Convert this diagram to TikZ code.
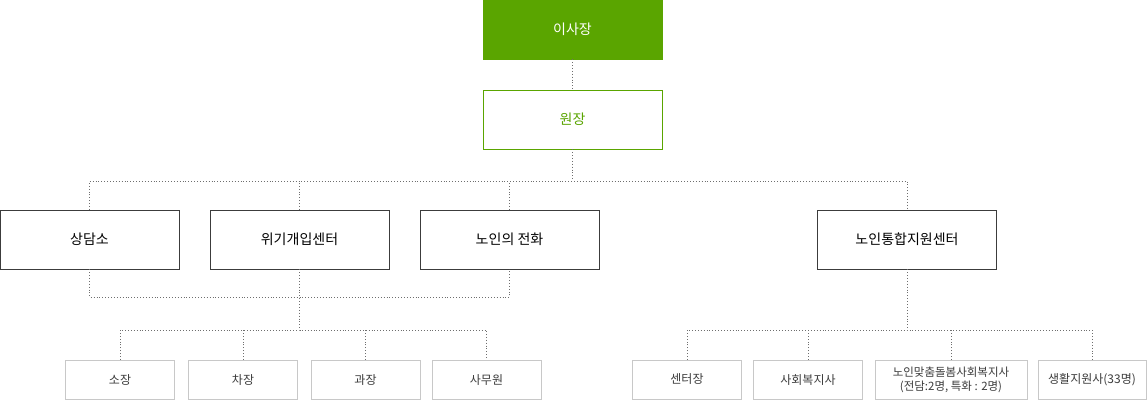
\documentclass[tikz,border=0pt]{standalone}
\usepackage{fontspec}
\setmainfont{Noto Sans CJK KR}
\usetikzlibrary{positioning,calc}
\definecolor{leafgreen}{RGB}{90,165,0}
\definecolor{boxgray}{RGB}{60,60,60}
\definecolor{lightgray}{RGB}{200,200,200}
\definecolor{dotgray}{RGB}{110,110,110}

\tikzset{
    headbox/.style={fill=leafgreen, draw=leafgreen, text=white, minimum width=179pt, minimum height=59pt, font=\fontsize{14}{16}\selectfont},
    directorbox/.style={draw=leafgreen, fill=white, text=leafgreen, minimum width=179pt, minimum height=59pt, font=\fontsize{14}{16}\selectfont},
    unitbox/.style={draw=boxgray, fill=white, minimum width=179pt, minimum height=59pt, font=\fontsize{14}{16}\selectfont},
    staffbox/.style={draw=lightgray, fill=white, minimum width=109pt, minimum height=39pt, font=\fontsize{12}{14}\selectfont, text=boxgray, align=center},
    link/.style={dotgray, dotted, line width=0.9pt}
}

\begin{document}
\begin{tikzpicture}[x=1pt,y=1pt]
    \useasboundingbox (0,0) rectangle (1147,-400);
    % Top levels
    \node[headbox] (chair) at (572.5,-29.5) {이사장};
    \node[directorbox] (director) at (572.5,-119.5) {원장};
    \draw[link] (chair) -- (director);

    % Units
    \node[unitbox] (counsel) at (89.5,-239.5) {상담소};
    \node[unitbox] (crisis) at (299.5,-239.5) {위기개입센터};
    \node[unitbox] (phone) at (509.5,-239.5) {노인의 전화};
    \node[unitbox] (integ) at (907,-239.5) {노인통합지원센터};

    \coordinate (top) at (572.5,-181);
    \draw[link] (director) -- (top);
    \draw[link] (counsel.north) |- (top) -| (integ.north);
    \foreach \u in {crisis, phone} {
        \draw[link] (\u.north) -- (\u.north |- top);
    }

    % Left staff
    \node[staffbox] (head) at (120,-379.5) {소장};
    \node[staffbox] (deputy) at (243,-379.5) {차장};
    \node[staffbox] (section) at (365.5,-379.5) {과장};
    \node[staffbox] (clerk) at (486.5,-379.5) {사무원};

    \coordinate (joinL) at (299.5,-297);
    \coordinate (busL) at (299.5,-330);
    \draw[link] (counsel.south) |- (joinL) -| (phone.south);
    \draw[link] (crisis.south) -- (busL);
    \draw[link] (head.north) |- (busL) -| (clerk.north);
    \foreach \s in {deputy, section} {
        \draw[link] (\s.north) -- (\s.north |- busL);
    }

    % Right staff
    \node[staffbox] (chief) at (687,-379.5) {센터장};
    \node[staffbox] (social) at (808,-379.5) {사회복지사};
    \node[staffbox, minimum width=152pt, font=\fontsize{11.5}{14}\selectfont] (custom) at (951,-379.5) {노인맞춤돌봄사회복지사\\(전담:2명, 특화 : 2명)};
    \node[staffbox, minimum width=108pt] (living) at (1092,-379.5) {생활지원사(33명)};

    \coordinate (busR) at (907,-330);
    \draw[link] (integ.south) -- (busR);
    \draw[link] (chief.north) |- (busR) -| (living.north);
    \foreach \s in {social, custom} {
        \draw[link] (\s.north) -- (\s.north |- busR);
    }
\end{tikzpicture}
\end{document}
